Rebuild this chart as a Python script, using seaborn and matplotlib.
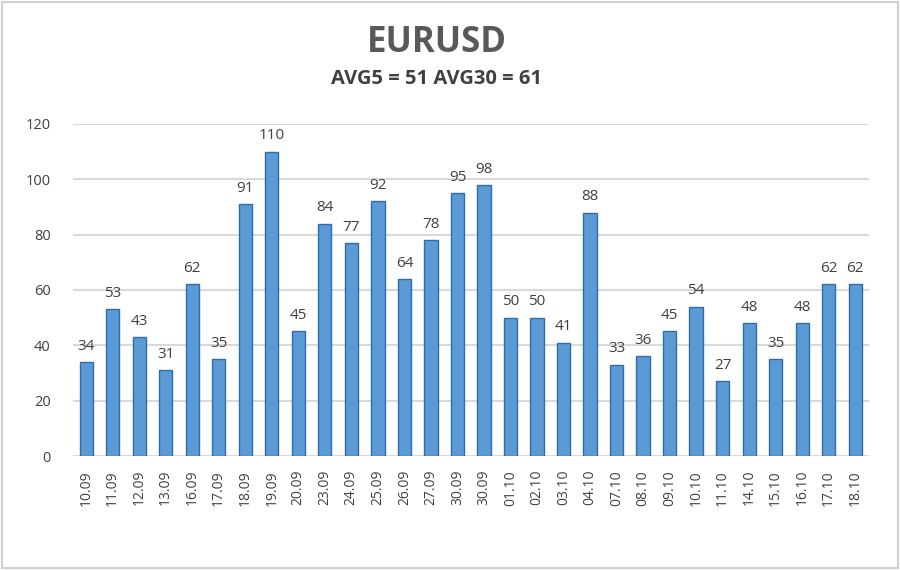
import numpy as np
import pandas as pd
import matplotlib
matplotlib.use('Agg')
import matplotlib.pyplot as plt
import seaborn as sns
from matplotlib.patches import Rectangle

sns.set_theme(style='white')
plt.rcParams['font.family'] = ['Open Sans', 'DejaVu Sans']

# 数据
dates = ['10.09', '11.09', '12.09', '13.09', '16.09', '17.09', '18.09', '19.09',
         '20.09', '23.09', '24.09', '25.09', '26.09', '27.09', '30.09', '30.09',
         '01.10', '02.10', '03.10', '04.10', '07.10', '08.10', '09.10', '10.10',
         '11.10', '14.10', '15.10', '16.10', '17.10', '18.10']
values = [34, 53, 43, 31, 62, 35, 91, 110, 45, 84, 77, 92, 64, 78, 95, 98,
          50, 50, 41, 88, 33, 36, 45, 54, 27, 48, 35, 48, 62, 62]
title = 'EURUSD'
subtitle = 'AVG5 = 51 AVG30 = 61'

df = pd.DataFrame({'pos': np.arange(len(values)), 'val': values})

fig = plt.figure(figsize=(9, 5.7), dpi=100)
ax = fig.add_axes([0.081, 0.2, 0.884, 0.5825])

sns.barplot(data=df, x='pos', y='val', color='#5B9BD5', width=0.5,
            edgecolor='#2F6CA8', linewidth=1.0, saturation=1, ax=ax)

ax.set_ylim(0, 120)
ax.set_xlim(-0.5, len(values) - 0.5)
ax.set_yticks(range(0, 121, 20))
ax.yaxis.grid(True, color='#D9D9D9', linewidth=1.5)
ax.set_axisbelow(True)
for s in ax.spines.values():
    s.set_visible(False)
ax.set_xlabel('')
ax.set_ylabel('')
ax.set_xticks(df['pos'])
ax.set_xticklabels(dates, rotation=90, fontsize=10, color='#404040')
ax.tick_params(axis='y', labelsize=10.5, colors='#404040', pad=10)
ax.tick_params(axis='x', pad=10, length=0)

# 数值标签
for p, v in zip(df['pos'], df['val']):
    ax.text(p, v + 3, str(v), ha='center', va='bottom', fontsize=11,
            color='#404040', clip_on=False)

fig.text(0.485, 0.925, title, ha='center', va='center', fontsize=25,
         fontweight='bold', color='#595959')
fig.text(0.485, 0.862, subtitle, ha='center', va='center', fontsize=14.5,
         fontweight='bold', color='#404040')

fig.patches.append(Rectangle((0.002, 0.003), 0.996, 0.994, transform=fig.transFigure,
                             fill=False, edgecolor='#D0D0D0', linewidth=1.5))

fig.savefig('out.png', dpi=100, facecolor='white')
